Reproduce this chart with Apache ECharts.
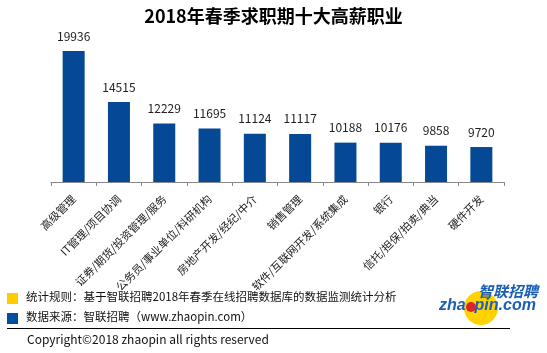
<!DOCTYPE html>
<html><head><meta charset="utf-8">
<script src="https://cdn.jsdelivr.net/npm/echarts@6/dist/echarts.min.js"></script>
<style>html,body{margin:0;padding:0;background:#fff}#c{width:547px;height:353px}</style>
</head><body><div id="c"></div>
<script>
const titleText = '2018年春季求职期十大高薪职业';
const categories = ['高级管理','IT管理/项目协调','证券/期货/投资管理/服务','公务员/事业单位/科研机构','房地产开发/经纪/中介','销售管理','软件/互联网开发/系统集成','银行','信托/担保/拍卖/典当','硬件开发'];
const salaries = [19936,14515,12229,11695,11124,11117,10188,10176,9858,9720];
const noteRule = '统计规则：基于智联招聘2018年春季在线招聘数据库的数据监测统计分析';
const noteSource = '数据来源：智联招聘（www.zhaopin.com）';
const copyrightText = 'Copyright©2018 zhaopin all rights reserved';

const FONT = '"Noto Sans CJK SC","Noto Sans",sans-serif';
const chart = echarts.init(document.getElementById('c'));
chart.setOption({
  backgroundColor: '#fff',
  animation: false,
  title: {
    text: titleText, left: 'center', top: 2,
    textStyle: { fontFamily: FONT, fontSize: 18, fontWeight: 'bold', color: '#000' }
  },
  grid: { left: 51, right: 43, top: 50.4, bottom: 171, containLabel: false },
  xAxis: {
    type: 'category', data: categories,
    axisLine: { lineStyle: { color: '#888', width: 1 } },
    axisTick: { show: true, length: 4, lineStyle: { color: '#888' } },
    axisLabel: { rotate: 45, interval: 0, margin: 15, fontSize: 11, color: '#222', fontFamily: FONT }
  },
  yAxis: { type: 'value', min: 6000, max: 20000, show: false, splitLine: { show: false } },
  series: [{
    type: 'bar', data: salaries, barWidth: 22,
    itemStyle: { color: '#054896' },
    label: { show: true, position: 'top', distance: 9, fontSize: 12, color: '#222', fontFamily: FONT }
  }],
  graphic: [
    { type: 'rect', shape: { x: 7, y: 293, width: 11, height: 11 }, style: { fill: '#ffcc00' } },
    { type: 'rect', shape: { x: 7, y: 313, width: 11, height: 11 }, style: { fill: '#0050a0' } },
    { type: 'text', left: 26, top: 291, style: { text: noteRule, font: '11.5px ' + FONT, fill: '#111' } },
    { type: 'text', left: 26, top: 311, style: { text: noteSource, font: '11.5px ' + FONT, fill: '#111' } },
    { type: 'line', shape: { x1: 7, y1: 328.5, x2: 510, y2: 328.5 }, style: { stroke: '#000', lineWidth: 1 } },
    { type: 'text', left: 27, top: 333, style: { text: copyrightText, font: '12px ' + FONT, fill: '#111' } },
    { type: 'circle', shape: { cx: 481, cy: 308, r: 17 }, style: { fill: '#ffd200' } },
    { type: 'text', left: 478, top: 284, style: { text: '智联招聘', font: 'italic bold 15px ' + FONT, fill: '#1a5fb4' } },
    { type: 'text', left: 439, top: 298, style: { text: 'zha  pin.com', font: 'italic bold 16px "Liberation Sans",sans-serif', fill: '#1a5fb4' } },
    { type: 'circle', shape: { cx: 471, cy: 307, r: 5 }, style: { fill: '#d9262b' } }
  ]
});
</script></body></html>
